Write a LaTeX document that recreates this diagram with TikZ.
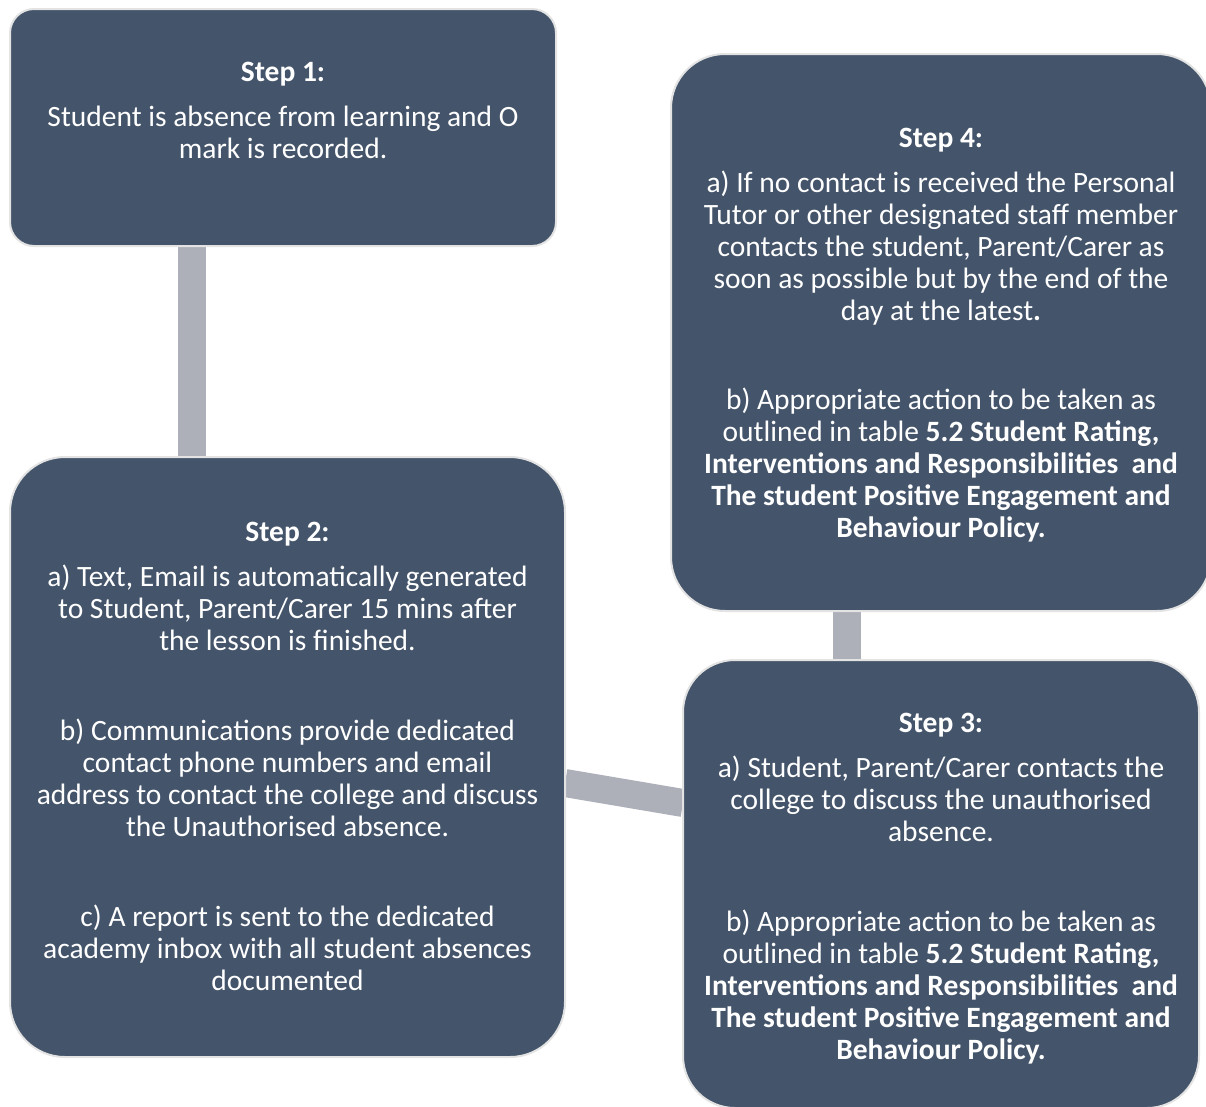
\documentclass[tikz,border=0pt]{standalone}
\usepackage{fontspec}
\setmainfont{Carlito}
\usetikzlibrary{backgrounds,calc}
\definecolor{boxfill}{HTML}{44546A}
\definecolor{boxline}{HTML}{E3E3E3}
\definecolor{connc}{HTML}{ADB0B8}
\begin{document}
\begin{tikzpicture}[x=1pt,y=-1pt,
  box/.style={draw=boxline, line width=2pt, fill=boxfill, inner sep=0pt, outer sep=0pt},
  txt/.style={text=white, font=\fontsize{29.5}{32}\selectfont, align=center, anchor=base, inner sep=0pt},
  conn/.style={draw=connc, line width=28pt}]
\useasboundingbox (0,0) rectangle (1206,1106);
\clip (0,0) rectangle (1206,1106);
\node[box, rounded corners=24pt, minimum width=546pt, minimum height=237pt] (b1) at (283,127.5) {};
\node[box, rounded corners=55pt, minimum width=555pt, minimum height=600pt] (b2) at (287.5,757) {};
\node[box, rounded corners=54pt, minimum width=540pt, minimum height=557pt] (b4) at (941,332.5) {};
\node[box, rounded corners=52pt, minimum width=516pt, minimum height=448pt] (b3) at (941,884) {};
\begin{scope}[on background layer]
\coordinate (c12) at (192,0);
\coordinate (c43) at (847,0);
\draw[conn] (b1.south -| c12) -- (b2.north -| c12);
\draw[conn] (b4.south -| c43) -- (b3.north -| c43);
\draw[conn] ($(b2.east)+(0,26)$) -- ($(b3.west)+(0,-81)$);
\end{scope}
\node[txt] (t1) at (283,158) {\textbf{Step 1:}\\[13pt]
Student is absence from learning and O\\
mark is recorded.};
\node[txt] (t2) at (287.5,990) {\textbf{Step 2:}\\[13pt]
a) Text, Email is automatically generated\\
to Student, Parent/Carer 15 mins after\\
the lesson is finished.\\[58pt]
b) Communications provide dedicated\\
contact phone numbers and email\\
address to contact the college and discuss\\
the Unauthorised absence.\\[58pt]
c) A report is sent to the dedicated\\
academy inbox with all student absences\\
documented};
\node[txt] (t4) at (941,537) {\textbf{Step 4:}\\[13pt]
a) If no contact is received the Personal\\
Tutor or other designated staff member\\
contacts the student, Parent/Carer as\\
soon as possible but by the end of the\\
day at the latest\textbf{.}\\[57pt]
b) Appropriate action to be taken as\\
outlined in table \textbf{5.2 Student Rating,}\\
\textbf{Interventions and Responsibilities\ \ and}\\
\textbf{The student Positive Engagement and}\\
\textbf{Behaviour Policy.}};
\node[txt] (t3) at (941,1059) {\textbf{Step 3:}\\[13pt]
a) Student, Parent/Carer contacts the\\
college to discuss the unauthorised\\
absence.\\[58pt]
b) Appropriate action to be taken as\\
outlined in table \textbf{5.2 Student Rating,}\\
\textbf{Interventions and Responsibilities\ \ and}\\
\textbf{The student Positive Engagement and}\\
\textbf{Behaviour Policy.}};
\end{tikzpicture}
\end{document}
